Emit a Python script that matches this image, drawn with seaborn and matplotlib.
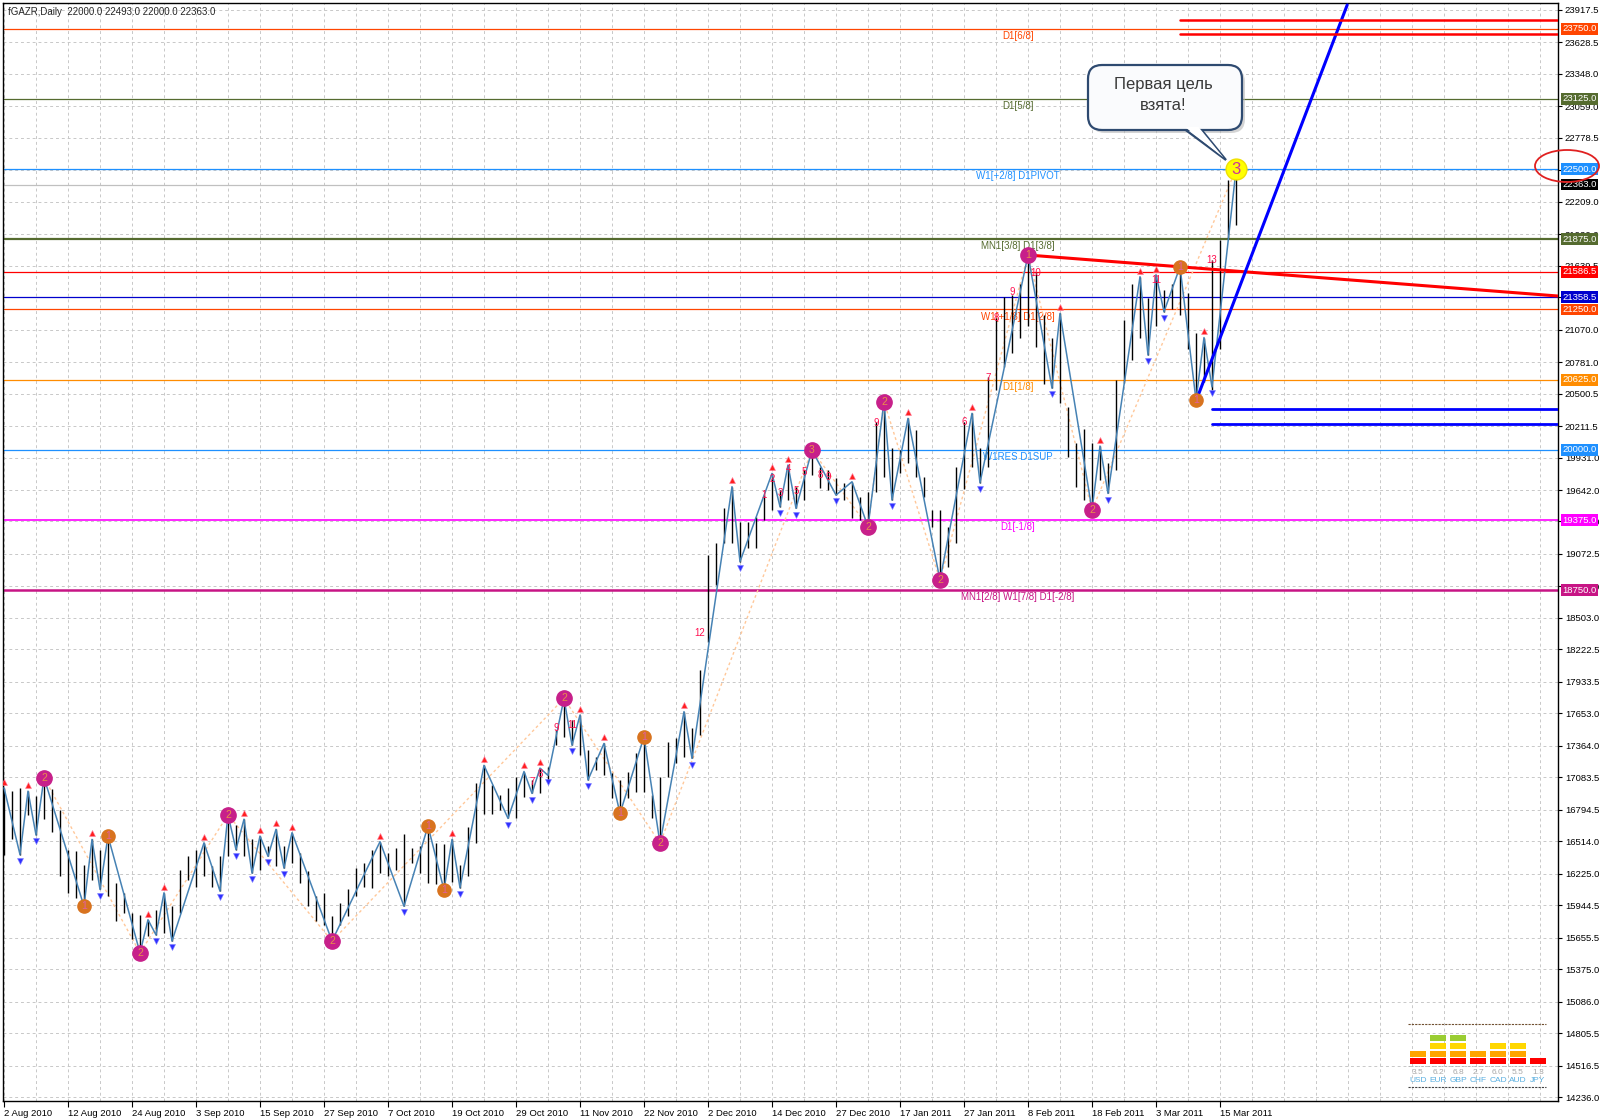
import numpy as np
import pandas as pd
import matplotlib
matplotlib.use("Agg")
import matplotlib.pyplot as plt
import matplotlib.transforms as mtransforms
from matplotlib.patches import Ellipse, Rectangle, Polygon, FancyBboxPatch
import seaborn as sns

# ---- данные графика ----
header = "fGAZR,Daily  22000.0 22493.0 22000.0 22363.0"

date_labels = ["2 Aug 2010", "12 Aug 2010", "24 Aug 2010", "3 Sep 2010", "15 Sep 2010",
               "27 Sep 2010", "7 Oct 2010", "19 Oct 2010", "29 Oct 2010", "11 Nov 2010",
               "22 Nov 2010", "2 Dec 2010", "14 Dec 2010", "27 Dec 2010", "17 Jan 2011",
               "27 Jan 2011", "8 Feb 2011", "18 Feb 2011", "3 Mar 2011", "15 Mar 2011"]

highs = [
    16990, 16960, 16990, 16960, 16915, 17080, 16975, 16795, 16440, 16425,
    16305, 16530, 16440, 16560, 16140, 16055, 15875, 15860, 15815, 15905,
    16055, 15935, 16260, 16380, 16440, 16500, 16290, 16380, 16750, 16660,
    16710, 16530, 16560, 16470, 16620, 16470, 16590, 16410, 16245, 16025,
    16055, 15845, 15965, 16085, 16275, 16320, 16440, 16510, 16410, 16455,
    16575, 16455, 16470, 16650, 16500, 16485, 16530, 16300, 16640, 17030,
    17190, 17015, 16925, 16985, 17090, 17135, 17060, 17165, 17175, 17505,
    17786, 17594, 17638, 17326, 17267, 17385, 17118, 17060, 17133, 17297,
    17445, 16925, 17089, 17400, 17430, 17668, 17520, 18039, 19063, 19170,
    19479, 19672, 19360, 19360, 19404, 19597, 19790, 19642, 19865, 19672,
    19820, 19998, 19850, 19820, 19746, 19702, 19716, 19583, 19627, 20251,
    20429, 20013, 19998, 20280, 20177, 19761, 19464, 19464, 19315, 19850,
    20250, 20325, 20020, 20651, 21170, 21360, 21380, 21480, 21735, 21580,
    21200, 21000, 21215, 20385, 20060, 20190, 20058, 20034, 19880, 20622,
    21156, 21480, 21542, 21350, 21560, 21420, 21480, 21631, 21400, 21037,
    21000, 21690, 21870, 22400, 22493]
lows = [
    16395, 16530, 16395, 16750, 16570, 16710, 16600, 16200, 16050, 16010,
    15935, 16170, 16085, 16025, 15800, 15875, 15640, 15520, 15670, 15680,
    15700, 15625, 15875, 16170, 16110, 16200, 16110, 16070, 16380, 16440,
    16380, 16230, 16260, 16380, 16290, 16275, 16320, 16140, 15935, 15800,
    15770, 15625, 15770, 15845, 16025, 16110, 16100, 16230, 16200, 16260,
    15935, 16320, 16230, 16140, 16130, 16080, 16150, 16100, 16200, 16495,
    16760, 16760, 16790, 16718, 16718, 16910, 16940, 16940, 17060, 17370,
    17445, 17370, 17282, 17060, 17148, 17104, 16896, 16762, 16896, 16955,
    16955, 16718, 16495, 17089, 17207, 17267, 17252, 17460, 18290, 18800,
    19167, 19167, 19004, 19122, 19122, 19375, 19464, 19494, 19553, 19479,
    19553, 19775, 19657, 19642, 19597, 19553, 19390, 19375, 19315, 19627,
    19761, 19553, 19790, 19880, 19761, 19583, 19315, 18840, 18960, 19167,
    19650, 19850, 19707, 19850, 20530, 20740, 20860, 21000, 21100, 20920,
    20590, 20550, 20414, 19940, 19670, 19553, 19464, 19731, 19612, 19820,
    20592, 20800, 21000, 20845, 21100, 21230, 21250, 21200, 20900, 20444,
    20600, 20533, 20900, 21880, 22000]

# точки зигзага (номер бара, цена)
zz_idx = [0, 2, 3, 4, 5, 10, 11, 12, 13, 17, 18, 19, 20, 21, 25, 27, 28, 29, 30, 31,
          32, 33, 34, 35, 36, 41, 47, 50, 53, 55, 56, 57, 60, 63, 65, 66, 67, 68, 70, 71,
          72, 73, 75, 77, 80, 82, 85, 86, 91, 92, 96, 97, 98, 99, 101, 104, 106, 108, 110, 111,
          113, 117, 121, 122, 128, 131, 132, 136, 137, 138, 142, 143, 144, 145, 147, 149, 150, 151, 154]
zz_price = [16990, 16395, 16960, 16570, 17080, 15935, 16530, 16085, 16560, 15520,
            15815, 15680, 16055, 15625, 16500, 16070, 16750, 16440, 16710, 16230,
            16560, 16380, 16620, 16275, 16590, 15625, 16510, 15935, 16650, 16080,
            16530, 16100, 17190, 16718, 17135, 16940, 17165, 17100, 17786, 17370,
            17638, 17060, 17385, 16762, 17445, 16495, 17668, 17252, 19672, 19004,
            19790, 19494, 19865, 19479, 19998, 19597, 19716, 19315, 20429, 19553,
            20280, 18840, 20325, 19707, 21735, 20550, 21215, 19464, 20034, 19612,
            21542, 20845, 21560, 21230, 21631, 20444, 21000, 20560, 22493]

# волновые метки
wave_idx = [5, 10, 13, 17, 28, 41, 53, 55, 70, 77, 80, 82, 101, 108, 110, 117, 128, 136, 147, 149]
wave_price = [17080, 15935, 16560, 15520, 16750, 15625, 16650, 16080, 17786, 16762,
              17445, 16495, 19998, 19315, 20429, 18840, 21735, 19464, 21631, 20444]
wave_text = ["2", "1", "1", "2", "2", "2", "1", "1", "2", "1",
             "1", "2", "3", "2", "2", "2", "1", "2", "1", "1"]
wave_major = [True, False, False, True, True, True, False, False, True, False,
              False, True, True, True, True, True, True, True, False, False]
peak_idx, peak_price, peak_text = 154, 22500, "3"

# мелкие номера
num_idx = [66, 67, 69, 71, 87, 95, 96, 97, 98, 99, 100, 102, 103, 109, 120, 123, 124, 126, 129, 144, 151]
num_price = [17044, 17110, 17520, 17549, 18365, 19597, 19737, 19618, 19830, 19630,
             19800, 19780, 19760, 20236, 20251, 20637, 21171, 21408, 21578, 21512, 21690]
num_text = ["7", "8", "9", "11", "12", "1", "2", "3", "4", "5",
            "5", "8", "9", "9", "6", "7", "8", "9", "10", "11", "13"]

price_ticks = [23917.5, 23628.5, 23348.0, 23059.0, 22778.5, 22489.5, 22209.0, 21920.0,
               21639.5, 21359.0, 21070.0, 20781.0, 20500.5, 20211.5, 19931.0, 19642.0,
               19362.0, 19072.5, 18783.0, 18503.0, 18222.5, 17933.5, 17653.0, 17364.0,
               17083.5, 16794.5, 16514.0, 16225.0, 15944.5, 15655.5, 15375.0, 15086.0,
               14805.5, 14516.5, 14236.0]

level_prices = [23750.0, 23125.0, 22500.0, 21875.0, 21586.5, 21358.5, 21250.0,
                20625.0, 20000.0, 19375.0, 18750.0]
level_names = ["D1[6/8]", "D1[5/8]", "W1[+2/8] D1PIVOT", "MN1[3/8] D1[3/8]", "", "",
               "W1[+1/8] D1[2/8]", "D1[1/8]", "W1RES D1SUP", "D1[-1/8]",
               "MN1[2/8] W1[7/8] D1[-2/8]"]
last_price = 22363.0

red_trend_idx = [128, 194.25]
red_trend_price = [21735, 21370]
blue_trend_idx = [149, 167.9]
blue_trend_price = [20435, 23962]
red_targets = [23828, 23704]
blue_targets = [20363, 20230]

callout_lines = ["Первая цель", "взята!"]

currencies = ["USD", "EUR", "GBP", "CHF", "CAD", "AUD", "JPY"]
strengths = [3.5, 6.2, 6.8, 2.7, 6.0, 5.5, 1.3]

# ---- оформление ----
W, H = 1600, 1120
sns.set_theme(style="white")
plt.rcParams["font.family"] = ["Liberation Sans", "DejaVu Sans"]

fig = plt.figure(figsize=(W / 100, H / 100), dpi=100, facecolor="white")
ax = fig.add_axes([3 / W, 1 - 1101 / H, 1555 / W, 1098 / H])
ax.set_facecolor("white")
pix = mtransforms.Affine2D().scale(1 / W, -1 / H).translate(0, 1) + fig.transFigure

n = len(highs)
ax.set_xlim(-0.125, 194.25)
ax.set_ylim(14200.4, 23979.8)

# сетка
for gx in range(0, 196, 4):
    ax.axvline(gx, color="#C8C8C8", lw=0.7, ls=(0, (3, 3)), zorder=0)
for gy in price_ticks:
    ax.axhline(gy, color="#C8C8C8", lw=0.7, ls=(0, (3, 3)), zorder=0)

# уровни Мюррея
level_colors = ["#FF4500", "#556B2F", "#1E90FF", "#556B2F", "#FF0000", "#0000CD", "#FF4500",
                "#FF8C00", "#1E90FF", "#FF00FF", "#C71585"]
level_lw = [0.9, 0.9, 0.9, 1.6, 0.9, 0.9, 0.9, 0.9, 0.9, 1.2, 1.8]
for p, c, w, name in zip(level_prices, level_colors, level_lw, level_names):
    ax.axhline(p, color=c, lw=w, zorder=2)
    if name:
        ax.text(126.75, p - 18, name, color=c, fontsize=7, ha="center", va="top", zorder=3)
ax.axhline(last_price, color="#C0C0C0", lw=0.9, zorder=2)

# бары
idx = np.arange(n)
ax.vlines(idx, lows, highs, color="black", lw=1.0, zorder=4)

# большой зигзаг (пунктир)
major_i = [i for i, m in zip(wave_idx, wave_major) if m] + [peak_idx]
major_p = [p for p, m in zip(wave_price, wave_major) if m] + [peak_price]
ax.plot(major_i, major_p, color="#FFC89A", lw=1.0, ls=(0, (2, 2)), zorder=3)

# малый зигзаг
zz = pd.DataFrame({"bar": zz_idx, "price": zz_price})
sns.lineplot(data=zz, x="bar", y="price", ax=ax, sort=False, estimator=None,
             color="#4682B4", lw=1.1, zorder=5)

# стрелки на вершинах/впадинах
for k, (i, p) in enumerate(zip(zz_idx, zz_price)):
    if i in wave_idx or i == peak_idx:
        continue
    prev_p = zz_price[k - 1] if k > 0 else zz_price[k + 1]
    if p > prev_p:
        ax.plot(i, p + 55, marker="^", ms=4, color="#FF2020", mec="#FF80A0", mew=0.4, zorder=6)
    else:
        ax.plot(i, p - 55, marker="v", ms=4, color="#3030FF", mec="#8080FF", mew=0.4, zorder=6)

# номера
for i, p, t in zip(num_idx, num_price, num_text):
    ax.text(i, p, t, color="#FF1050", fontsize=7, ha="center", va="center", zorder=7)

# волновые кружки
for i, p, t, m in zip(wave_idx, wave_price, wave_text, wave_major):
    fc = "#C7208A" if m else "#D8731F"
    tc = "#E8904A" if m else "#E060A0"
    ax.plot(i, p, marker="o", ms=11 if m else 9.5, color=fc, mec=fc, zorder=8)
    ax.text(i, p, t, color=tc, fontsize=7.5, ha="center", va="center", zorder=9)
ax.plot(peak_idx, peak_price, marker="o", ms=15, color="#FFFF00", mec="#F0E000", zorder=8)
ax.text(peak_idx, peak_price, peak_text, color="#CC3399", fontsize=12, ha="center",
        va="center", zorder=9)

# трендовые линии
ax.plot(red_trend_idx, red_trend_price, color="#FF0000", lw=2.2, zorder=6)
ax.plot(blue_trend_idx, blue_trend_price, color="#0000FF", lw=2.2, zorder=6)
for p in red_targets:
    ax.plot([147, 194.25], [p, p], color="#FF0000", lw=1.8, zorder=6)
for p in blue_targets:
    ax.plot([151, 194.25], [p, p], color="#0000FF", lw=2.0, zorder=6)

# оси
for s in ax.spines.values():
    s.set_color("black")
    s.set_linewidth(1.0)
ax.yaxis.tick_right()
ax.set_yticks(price_ticks)
ax.set_yticklabels([f"{v:.1f}" for v in price_ticks])
ax.set_xticks(np.arange(0, 8 * len(date_labels), 8))
ax.set_xticklabels(date_labels, ha="left")
ax.tick_params(axis="y", right=True, left=False, length=3, width=0.8, pad=2,
               labelsize=6.8, colors="black")
ax.tick_params(axis="x", bottom=True, length=4, width=0.8, pad=1.5,
               labelsize=6.8, colors="black")
ax.set_xlabel("")
ax.set_ylabel("")

# цветные метки цен справа
ybl = mtransforms.blended_transform_factory(ax.transAxes, ax.transData)
ax.text(1.0026, last_price, f"{last_price:.1f}", transform=ybl, fontsize=6.8,
        color="white", ha="left", va="center", zorder=10, clip_on=False,
        bbox=dict(boxstyle="square,pad=0.15", fc="black", ec="none"))
for p, c in zip(level_prices, level_colors):
    ax.text(1.0026, p, f"{p:.1f}", transform=ybl, fontsize=6.8, color="white",
            ha="left", va="center", zorder=11, clip_on=False,
            bbox=dict(boxstyle="square,pad=0.15", fc=c, ec="none"))

# заголовок
fig.text(8, 12, header, transform=pix, fontsize=7, ha="left", va="center")

# красный эллипс вокруг 22500
fig.add_artist(Ellipse((1567, 166), 64, 32, transform=pix, fill=False, ec="#E02020", lw=1.3))

# выноска
shadow = FancyBboxPatch((1091, 68), 154, 65, boxstyle="round,pad=0,rounding_size=14",
                        transform=pix, fc="#B8B8B8", ec="none", alpha=0.6)
fig.add_artist(shadow)
fig.add_artist(Polygon([(1183, 128), (1226, 160), (1200, 128)], closed=True, transform=pix,
                       fc="white", ec="#2E4A70", lw=1.6))
box = FancyBboxPatch((1088, 65), 154, 65, boxstyle="round,pad=0,rounding_size=14",
                     transform=pix, fc="#FAFBFD", ec="#2E4A70", lw=1.6)
fig.add_artist(box)
fig.add_artist(Polygon([(1185, 127), (1223.5, 157.5), (1198.5, 127)], closed=True,
                       transform=pix, fc="white", ec="none"))
for k, line in enumerate(callout_lines):
    fig.text(1163, 85 + 21 * k, line, transform=pix, fontsize=12, color="#3A3A3A",
             ha="center", va="center",
             family=["Liberation Sans Narrow", "Liberation Sans", "DejaVu Sans"])

# индикатор силы валют
row_colors = ["#FF0000", "#FFA500", "#FFD700", "#9ACD32"]
row_tops = [1058, 1051, 1043, 1035]
fig.add_artist(plt.Line2D([1408, 1546], [1024, 1024], transform=pix, color="#705030",
                          lw=0.8, ls=(0, (2, 1))))
fig.add_artist(plt.Line2D([1408, 1546], [1066, 1066], transform=pix, color="#B0B0B0",
                          lw=0.6, ls=(0, (2, 2))))
fig.add_artist(plt.Line2D([1408, 1546], [1087, 1087], transform=pix, color="#404040",
                          lw=0.8, ls=(0, (2, 1))))
for k, (cur, s) in enumerate(zip(currencies, strengths)):
    x0 = 1410 + 20 * k
    rows = int(np.ceil(s / 2))
    for r in range(rows):
        fig.add_artist(Rectangle((x0, row_tops[r]), 16, 5.5, transform=pix,
                                 fc=row_colors[r], ec="none"))
    fig.text(x0 + 8, 1072, f"{s:.1f}", transform=pix, fontsize=6, color="#A8A8A8",
             ha="center", va="center")
    fig.text(x0 + 8, 1081, cur, transform=pix, fontsize=6, color="#5AAFE0",
             ha="center", va="center")

fig.savefig("out.png", dpi=100, facecolor="white")
